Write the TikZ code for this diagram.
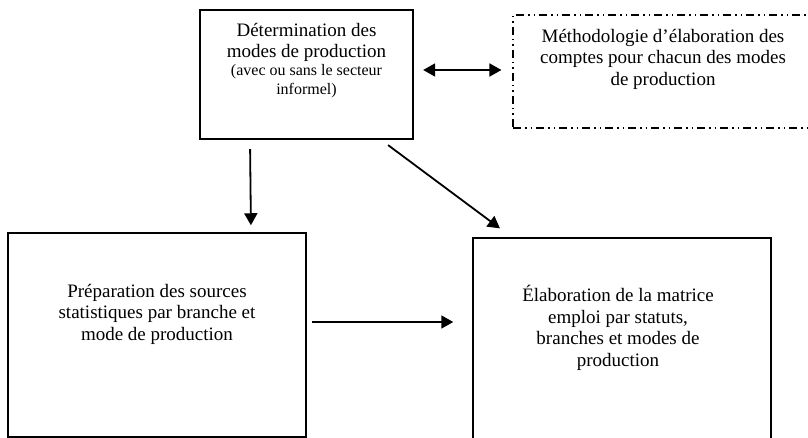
\documentclass[tikz,border=0pt]{standalone}
\usepackage{fontspec}
\setmainfont{Liberation Serif}
\usetikzlibrary{arrows.meta,calc}
\begin{document}
\begin{tikzpicture}[x=1pt,y=-1pt,
  box/.style={draw, line width=1.5pt, inner sep=0pt},
  txt/.style={align=center, inner sep=0pt, anchor=north, font=\fontsize{19}{21.5}\selectfont},
  small/.style={font=\fontsize{16}{19}\selectfont},
  arr/.style={line width=1.8pt, -{Triangle[length=12pt,width=13pt]}},
  darr/.style={line width=1.8pt, {Triangle[length=12pt,width=13pt]}-{Triangle[length=12pt,width=13pt]}},
  dashbox/.style={draw, line width=1.1pt, dash pattern=on 8pt off 4pt on 1.5pt off 4pt on 1.5pt off 4pt},
]
\useasboundingbox (0,0) rectangle (808,438);
\clip (0,0) rectangle (808,438);
% boxes
\node[box, line width=2.3pt, minimum width=213pt, minimum height=129pt] (A) at (306.5,74.5) {};
\node[dashbox, minimum width=317pt, minimum height=113pt] (B) at (671.5,71.5) {};
\node[box, minimum width=298pt, minimum height=204pt] (C) at (157,335) {};
\node[box, minimum width=298pt, minimum height=222pt] (D) at (622,349) {};
% texts
\node[txt] (At) at (306.5,23) {Détermination des\\modes de production};
\node[txt, small] (As) at (306.5,64) {(avec ou sans le secteur\\informel)};
\node[txt] (Bt) at (663,29) {Méthodologie d’élaboration des\\comptes pour chacun des modes\\de production};
\node[txt] (Ct) at (157,284) {Préparation des sources\\statistiques par branche et\\mode de production};
\node[txt] (Dt) at (618,285) {Élaboration de la matrice\\emploi par statuts,\\branches et modes de\\production};
% connectors
\draw[darr, shorten <=9pt, shorten >=11pt] (A.east |- 0,70) -- (B.west |- 0,70);
\draw[arr, shorten <=9pt, shorten >=7pt] (A.south -| 250,0) -- (C.north -| 251,0);
\draw[arr, shorten <=8.3pt, shorten >=14.9pt] (A.south -| 381.4,0) -- (D.north -| 511.9,0);
\draw[arr, shorten <=5pt, shorten >=19pt] (C.east |- 0,322) -- (D.west |- 0,322);
\end{tikzpicture}
\end{document}
